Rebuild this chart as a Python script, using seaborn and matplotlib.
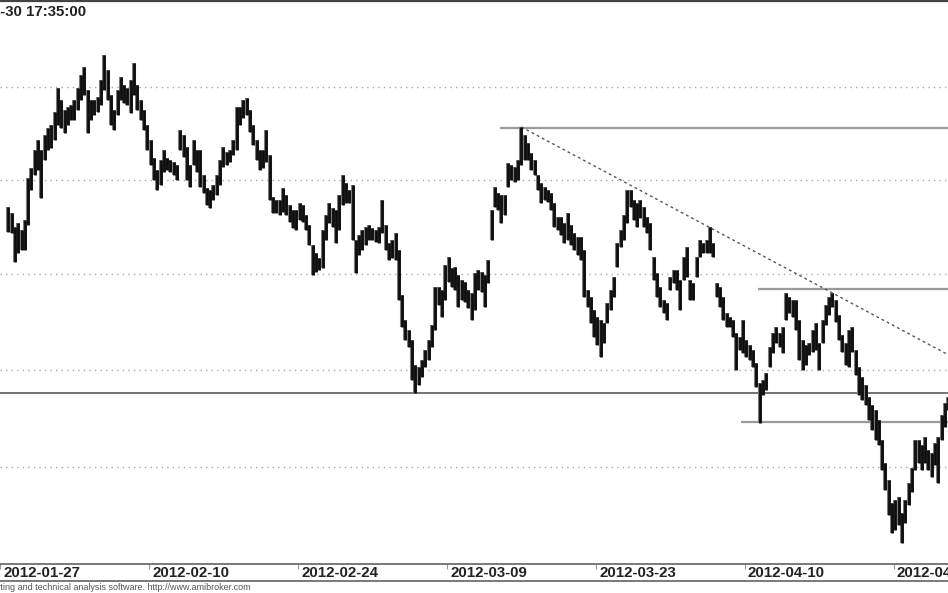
import numpy as np
import pandas as pd
import matplotlib
matplotlib.use("Agg")
import matplotlib.pyplot as plt
import seaborn as sns
from matplotlib.lines import Line2D
import matplotlib.transforms as mtransforms

# intraday bars (index points)
high = [2393, 2387, 2373, 2377, 2370, 2380, 2422, 2432, 2450, 2460,
        2450, 2465, 2472, 2475, 2488, 2512, 2500, 2490, 2493, 2495,
        2500, 2512, 2525, 2533, 2510, 2500, 2500, 2503, 2520, 2545,
        2530, 2505, 2490, 2510, 2523, 2515, 2512, 2520, 2537, 2515,
        2500, 2490, 2475, 2460, 2442, 2430, 2440, 2450, 2442, 2440,
        2438, 2435, 2470, 2465, 2453, 2435, 2460, 2450, 2450, 2425,
        2412, 2410, 2415, 2425, 2440, 2453, 2448, 2450, 2460, 2493,
        2493, 2500, 2502, 2490, 2475, 2460, 2450, 2450, 2470, 2445,
        2403, 2400, 2400, 2412, 2405, 2395, 2390, 2390, 2397, 2395,
        2385, 2375, 2355, 2347, 2342, 2370, 2385, 2397, 2392, 2390,
        2405, 2425, 2417, 2410, 2415, 2360, 2365, 2370, 2373, 2375,
        2372, 2370, 2373, 2400, 2375, 2357, 2360, 2367, 2350, 2305,
        2280, 2270, 2260, 2235, 2233, 2240, 2250, 2260, 2275, 2313,
        2313, 2310, 2335, 2343, 2332, 2333, 2325, 2320, 2318, 2310,
        2307, 2327, 2330, 2328, 2325, 2340, 2390, 2413, 2407, 2405,
        2405, 2437, 2435, 2433, 2440, 2473, 2465, 2457, 2447, 2440,
        2425, 2417, 2413, 2410, 2407, 2397, 2383, 2383, 2377, 2387,
        2375, 2367, 2363, 2363, 2350, 2310, 2303, 2290, 2283, 2280,
        2277, 2297, 2310, 2323, 2357, 2370, 2385, 2410, 2410, 2400,
        2397, 2400, 2393, 2383, 2377, 2343, 2327, 2313, 2300, 2297,
        2323, 2330, 2330, 2320, 2343, 2353, 2320, 2317, 2343, 2360,
        2357, 2360, 2373, 2357, 2317, 2313, 2303, 2287, 2283, 2280,
        2267, 2263, 2280, 2260, 2255, 2250, 2237, 2217, 2220, 2227,
        2253, 2267, 2273, 2267, 2273, 2307, 2303, 2300, 2300, 2280,
        2260, 2255, 2257, 2270, 2277, 2257, 2280, 2295, 2303, 2307,
        2300, 2285, 2265, 2257, 2270, 2273, 2250, 2233, 2223, 2215,
        2203, 2195, 2190, 2180, 2160, 2137, 2120, 2097, 2100, 2103,
        2087, 2100, 2117, 2132, 2160, 2160, 2155, 2163, 2150, 2147,
        2157, 2163, 2185, 2197, 2203]
low = [2368, 2367, 2338, 2347, 2350, 2350, 2375, 2410, 2425, 2430,
       2402, 2440, 2450, 2452, 2460, 2475, 2472, 2467, 2475, 2480,
       2480, 2490, 2500, 2505, 2467, 2480, 2485, 2488, 2495, 2510,
       2500, 2475, 2470, 2485, 2500, 2497, 2495, 2487, 2505, 2490,
       2480, 2470, 2450, 2435, 2420, 2410, 2415, 2428, 2430, 2428,
       2425, 2420, 2450, 2443, 2420, 2413, 2435, 2428, 2413, 2407,
       2395, 2392, 2400, 2405, 2415, 2433, 2435, 2438, 2445, 2450,
       2475, 2482, 2485, 2468, 2455, 2440, 2430, 2432, 2438, 2400,
       2387, 2387, 2385, 2388, 2385, 2378, 2372, 2370, 2380, 2378,
       2370, 2355, 2325, 2328, 2330, 2332, 2360, 2377, 2373, 2357,
       2370, 2395, 2397, 2397, 2360, 2327, 2345, 2350, 2355, 2360,
       2360, 2358, 2357, 2367, 2350, 2340, 2342, 2340, 2300, 2273,
       2260, 2253, 2220, 2207, 2215, 2223, 2233, 2240, 2253, 2270,
       2295, 2283, 2300, 2318, 2313, 2310, 2293, 2300, 2298, 2292,
       2280, 2290, 2310, 2308, 2293, 2317, 2360, 2393, 2390, 2377,
       2385, 2413, 2420, 2418, 2420, 2435, 2440, 2440, 2430, 2425,
       2410, 2397, 2400, 2398, 2390, 2373, 2370, 2365, 2357, 2360,
       2355, 2350, 2345, 2340, 2303, 2293, 2277, 2263, 2255, 2243,
       2257, 2277, 2290, 2303, 2333, 2353, 2360, 2377, 2393, 2380,
       2373, 2382, 2373, 2367, 2350, 2320, 2303, 2293, 2287, 2280,
       2310, 2317, 2310, 2290, 2320, 2323, 2300, 2300, 2323, 2343,
       2347, 2347, 2347, 2343, 2303, 2293, 2280, 2273, 2273, 2263,
       2230, 2250, 2247, 2243, 2240, 2233, 2213, 2177, 2205, 2210,
       2233, 2247, 2257, 2253, 2247, 2280, 2287, 2283, 2270, 2240,
       2230, 2235, 2245, 2248, 2250, 2230, 2257, 2275, 2285, 2293,
       2278, 2260, 2248, 2235, 2233, 2248, 2225, 2205, 2200, 2195,
       2180, 2170, 2160, 2155, 2130, 2110, 2085, 2067, 2070, 2075,
       2057, 2077, 2095, 2108, 2130, 2137, 2130, 2137, 2130, 2123,
       2135, 2117, 2160, 2173, 2190]

# date labels and the bar where each date starts
date_labels = ["2012-01-27", "2012-02-10", "2012-02-24", "2012-03-09",
               "2012-03-23", "2012-04-10", "2012-04-24"]
date_bars = [-2.5, 42.5, 87.5, 132.5, 177.5, 222.5, 267.5]

grid_levels = [2133, 2230, 2326, 2420, 2513]

# analyst's horizontal lines: level, first bar
support_level = 2207
resist_levels = [2472, 2311, 2178]
resist_start = [148.5, 226.5, 221.5]

# falling trend line through two highs
trend_pts = [(155, 2473), (249, 2307)]

sns.set_theme(style="white")
plt.rcParams['font.family'] = ['Liberation Sans', 'DejaVu Sans']

fig = plt.figure(figsize=(9.48, 5.93), dpi=100)
ax = fig.add_axes([0, 29 / 593, 1, 563 / 593])

n = len(high)
x = np.arange(n)
ax.set_xlim(-0.5, 283.9)
ax.set_ylim(2036, 2599)

for g in grid_levels:
    ax.axhline(g, color="#a8a8a8", lw=1.0, ls=(0, (1, 3)), zorder=1)

ax.axhline(support_level, color="#4d4d4d", lw=1.1, zorder=2)
for lev, st in zip(resist_levels, resist_start):
    ax.hlines(lev, st, 284, color="#9a9a9a", lw=1.6, zorder=2)

(x0, y0), (x1, y1) = trend_pts
tx = np.array([x0, 284.0])
ty = y0 + (tx - x0) * (y1 - y0) / (x1 - x0)
trend = pd.DataFrame({"bar": tx, "price": ty})
sns.lineplot(data=trend, x="bar", y="price", ax=ax, color="#555555",
             lw=1.0, linestyle=(0, (2, 2.2)), zorder=2)

ax.vlines(x, low, high, color="#7a7a7a", lw=2.9, zorder=3)
ax.vlines(x, low, high, color="#0d0d0d", lw=2.0, zorder=4)

ax.set_xlabel("")
ax.set_ylabel("")
ax.set_yticks([])
ax.set_xticks(date_bars)
ax.set_xticklabels([])
ax.tick_params(axis="x", direction="out", length=3.6, width=0.8,
               color="#9a9a9a", bottom=True)
for side in ["left", "right"]:
    ax.spines[side].set_visible(False)
ax.spines["top"].set_color("#444444")
ax.spines["top"].set_linewidth(1.6)
ax.spines["bottom"].set_color("#555555")
ax.spines["bottom"].set_linewidth(1.1)

trans = mtransforms.blended_transform_factory(ax.transData, ax.transAxes)
for lab, b in zip(date_labels, date_bars):
    ax.annotate(lab, xy=(b, 0), xycoords=trans, xytext=(2.3, -6.2),
                textcoords="offset points", ha="left", va="center",
                fontsize=10.8, fontweight="bold", color="#222222",
                annotation_clip=False)

fig.add_artist(Line2D([0, 1], [12 / 593, 12 / 593], transform=fig.transFigure,
                      color="#555555", lw=1.1))

# texts cut at the left edge like the original screenshot
fig.canvas.draw()
rend = fig.canvas.get_renderer()

t = fig.text(0, 0, "2012-04", fontsize=10.8, fontweight="bold")
w = t.get_window_extent(rend).width
t.remove()
fig.text(-w / 948, 1 - 12 / 593, "2012-04-30 17:35:00", fontsize=10.8,
         fontweight="bold", color="#222222", va="center", ha="left")

t = fig.text(0, 0, "AmiBroker - advanced char", fontsize=6.5)
w = t.get_window_extent(rend).width
t.remove()
fig.text(-w / 948, 6 / 593, "AmiBroker - advanced charting and technical analysis software. http://www.amibroker.com",
         fontsize=6.5, color="#555555", va="center", ha="left")

fig.savefig("out.png", dpi=100)
